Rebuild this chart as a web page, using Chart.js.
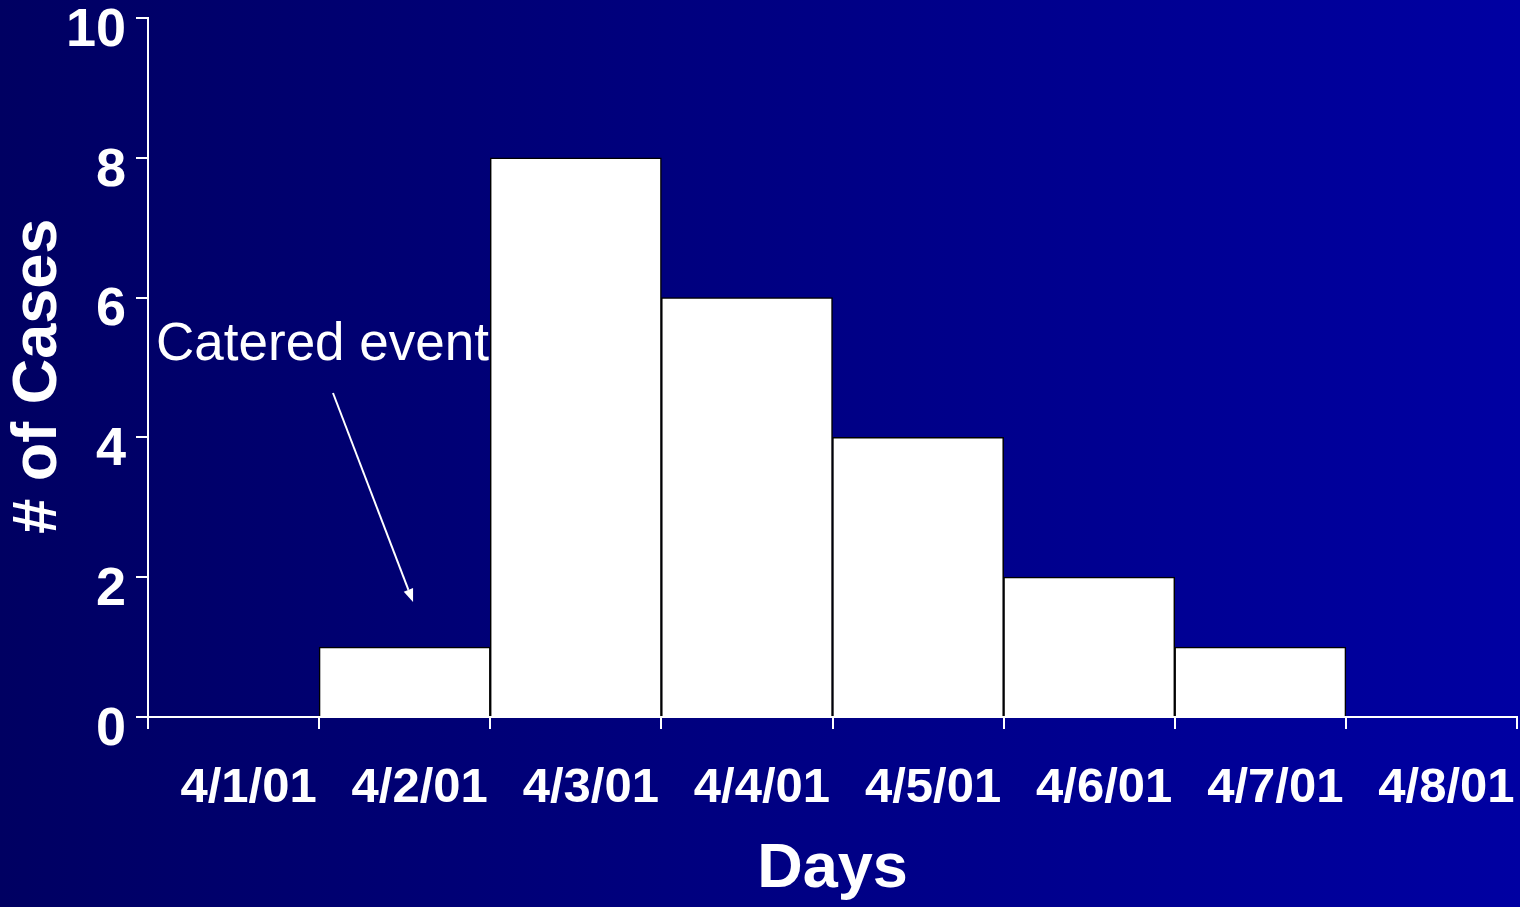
<!DOCTYPE html>
<html>
<head>
<meta charset="utf-8">
<script src="https://cdn.jsdelivr.net/npm/chart.js@4.4.0/dist/chart.umd.min.js"></script>
<style>
  html, body { margin: 0; padding: 0; background: #000064; overflow: hidden; }
  canvas { display: block; }
</style>
</head>
<body>
<canvas id="chart" width="1520" height="907"></canvas>
<script>
// Daily case counts of the outbreak
const days = ['4/1/01', '4/2/01', '4/3/01', '4/4/01', '4/5/01', '4/6/01', '4/7/01', '4/8/01'];
const cases = [0, 1, 8, 6, 4, 2, 1, 0];
const yTicks = [0, 2, 4, 6, 8, 10];

// Annotation, placed in data units (category index, case count)
const noteText = 'Catered event';
const noteAnchor = { index: -0.453, value: 5.11 };
const arrowFrom = { index: 0.581, value: 4.635 };
const arrowTo = { index: 1.049, value: 1.645 };

const FONT = '"Liberation Sans", Arial, Helvetica, sans-serif';
Chart.defaults.font.family = FONT;
Chart.defaults.color = '#ffffff';

const backdrop = {
  id: 'backdrop',
  beforeDraw(chart) {
    const { ctx, width, height } = chart;
    const g = ctx.createLinearGradient(0, 0, width, 0);
    g.addColorStop(0, '#000062');
    g.addColorStop(1, '#0000a2');
    ctx.save();
    ctx.fillStyle = g;
    ctx.fillRect(0, 0, width, height);
    ctx.restore();
  }
};

const note = {
  id: 'note',
  afterDraw(chart) {
    const { ctx, scales: { x, y } } = chart;
    const px = p => [x.getPixelForValue(p.index), y.getPixelForValue(p.value)];
    ctx.save();
    ctx.fillStyle = '#ffffff';
    ctx.strokeStyle = '#ffffff';
    ctx.font = '53px ' + FONT;
    ctx.textBaseline = 'alphabetic';
    ctx.textAlign = 'left';
    const [tx, ty] = px(noteAnchor);
    ctx.fillText(noteText, tx, ty);

    const [x0, y0] = px(arrowFrom);
    const [x1, y1] = px(arrowTo);
    const ang = Math.atan2(y1 - y0, x1 - x0);
    const headLen = 13, headHalf = 5;
    const bx = x1 - headLen * Math.cos(ang), by = y1 - headLen * Math.sin(ang);
    ctx.lineWidth = 2;
    ctx.beginPath();
    ctx.moveTo(x0, y0);
    ctx.lineTo(bx, by);
    ctx.stroke();
    ctx.beginPath();
    ctx.moveTo(x1, y1);
    ctx.lineTo(bx + headHalf * Math.sin(ang), by - headHalf * Math.cos(ang));
    ctx.lineTo(bx - headHalf * Math.sin(ang), by + headHalf * Math.cos(ang));
    ctx.closePath();
    ctx.fill();
    ctx.restore();
  }
};

new Chart(document.getElementById('chart'), {
  type: 'bar',
  data: {
    labels: days,
    datasets: [{
      data: cases,
      backgroundColor: '#ffffff',
      borderColor: '#000000',
      borderWidth: 1.5,
      categoryPercentage: 1,
      barPercentage: 1
    }]
  },
  options: {
    responsive: false,
    animation: false,
    devicePixelRatio: 1,
    layout: { padding: { top: 18, right: 3, left: 0, bottom: 0 } },
    plugins: { legend: { display: false }, tooltip: { enabled: false } },
    scales: {
      x: {
        grid: { display: true, drawOnChartArea: false, drawTicks: true, tickLength: 12, color: '#ffffff', lineWidth: 2, offset: true },
        border: { display: true, color: '#ffffff', width: 2, z: 1 },
        ticks: { color: '#ffffff', font: { size: 49, weight: 'bold' }, padding: 30, labelOffset: 15, maxRotation: 0, autoSkip: false },
        title: { display: true, text: 'Days', color: '#ffffff', font: { size: 63, weight: 'bold' }, padding: { top: 0, bottom: 0 } },
        afterFit(scale) { scale.height = 190; scale.paddingLeft = 0; scale.paddingRight = 0; }
      },
      y: {
        min: 0,
        max: 10,
        grid: { display: true, drawOnChartArea: false, drawTicks: true, tickLength: 12, color: '#ffffff', lineWidth: 2 },
        border: { display: true, color: '#ffffff', width: 2, z: 1 },
        ticks: { color: '#ffffff', font: { size: 54, weight: 'bold' }, padding: 10, labelOffset: 13 },
        afterBuildTicks(scale) { scale.ticks = yTicks.map(v => ({ value: v })); },
        title: { display: true, text: '# of Cases ', color: '#ffffff', font: { size: 63, weight: 'bold' }, padding: { top: 1, bottom: 0 } },
        afterFit(scale) { scale.width = 148; scale.paddingTop = 0; scale.paddingBottom = 0; }
      }
    }
  },
  plugins: [backdrop, note]
});
</script>
</body>
</html>
